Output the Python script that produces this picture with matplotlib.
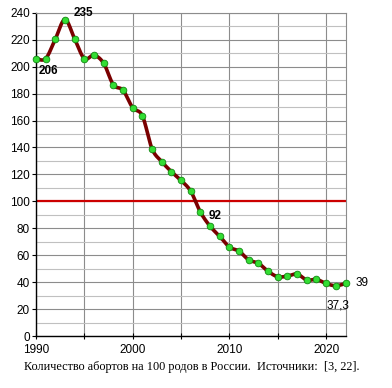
"""Abortions per 100 births in Russia, 1990-2022"""

import numpy as np
import matplotlib.pyplot as plt
from matplotlib.ticker import MultipleLocator, NullLocator

# data
# ========================================
years = np.arange(1990, 2023)
values = np.array([206, 206, 220.5, 235, 220.5, 206, 208.5, 202.5, 186.5, 182.5,
                   169.5, 163.5, 139, 129.5, 122, 115.5, 107.5, 92, 81.5, 74,
                   66, 63, 56.5, 54, 48, 44, 44.5, 46, 41.5, 42, 39, 37.3, 39])
threshold = 100
labels = [(1990, '206', 'bold'), (1993, '235', 'bold'), (2007, '92', 'bold'),
          (2022, '39', 'normal'), (2021, '37,3', 'normal')]
caption = 'Количество абортов на 100 родов в России.  Источники:  [3, 22].'


def smooth(x, y, n=20):
    # Excel-style smoothed line (Catmull-Rom through Bezier segments)
    px = np.concatenate([[x[0]], x, [x[-1]]])
    py = np.concatenate([[y[0]], y, [y[-1]]])
    t = np.linspace(0, 1, n)[:, None]
    out_x, out_y = [], []
    for i in range(1, len(px) - 2):
        p0 = np.array([px[i], py[i]])
        p3 = np.array([px[i + 1], py[i + 1]])
        c1 = p0 + (np.array([px[i + 1], py[i + 1]]) - np.array([px[i - 1], py[i - 1]])) / 6
        c2 = p3 - (np.array([px[i + 2], py[i + 2]]) - np.array([px[i], py[i]])) / 6
        b = ((1 - t) ** 3) * p0 + 3 * ((1 - t) ** 2) * t * c1 + 3 * (1 - t) * t ** 2 * c2 + t ** 3 * p3
        out_x.extend(b[:, 0])
        out_y.extend(b[:, 1])
    return np.array(out_x), np.array(out_y)


plt.rcParams['font.family'] = 'Liberation Sans'

fig = plt.figure(figsize=(3.92, 3.88), dpi=100)
ax = fig.add_axes([0.0918, 0.134, 0.7896, 0.833])

ax.set_xlim(1990, 2022)
ax.set_ylim(0, 240)
ax.xaxis.set_major_locator(MultipleLocator(10))
ax.xaxis.set_minor_locator(MultipleLocator(5))
ax.yaxis.set_major_locator(MultipleLocator(20))
ax.yaxis.set_minor_locator(MultipleLocator(10))
ax.grid(which='major', color='#8c8c8c', lw=0.8)
ax.grid(which='minor', axis='y', color='#c0c0c0', lw=0.8)
ax.grid(which='minor', axis='x', color='#8c8c8c', lw=0.8)
ax.set_axisbelow(True)

for s in ['top', 'right']:
    ax.spines[s].set_color('#8c8c8c')
    ax.spines[s].set_linewidth(0.8)
for s in ['left', 'bottom']:
    ax.spines[s].set_color('black')
    ax.spines[s].set_linewidth(1.0)
ax.tick_params(which='both', direction='out', length=3, width=0.8, labelsize=8.5, pad=1.5)
ax.tick_params(axis='x', which='both', direction='inout', length=5, pad=3)
ax.tick_params(axis='y', which='minor', length=0)
ax.tick_params(which='minor', labelbottom=False, labelleft=False)

ax.axhline(threshold, color='#cc0000', lw=1.6, zorder=2)

sx, sy = smooth(years, values)
ax.plot(sx, sy, color='#7a0000', lw=2.6, zorder=3, solid_capstyle='round')
ax.plot(years, values, ls='', marker='o', ms=4.8, mfc='#33dd33', mec='#118811',
        mew=0.6, zorder=4, clip_on=False)

offsets = {'206': (2, -9), '235': (6, 5), '92': (6, -3), '39': (7, 0), '37,3': (-7, -14)}
for yr, txt, wt in labels:
    v = values[years == yr][0]
    dx, dy = offsets[txt]
    ax.annotate(txt, (yr, v), xytext=(dx, dy), textcoords='offset points',
                fontsize=8.5, fontweight=wt, ha='left', va='center', annotation_clip=False)

fig.text(0.49, 0.054, caption, ha='center', va='center', fontsize=8.8,
         family='Liberation Serif')

fig.savefig('out.png', dpi=100)
